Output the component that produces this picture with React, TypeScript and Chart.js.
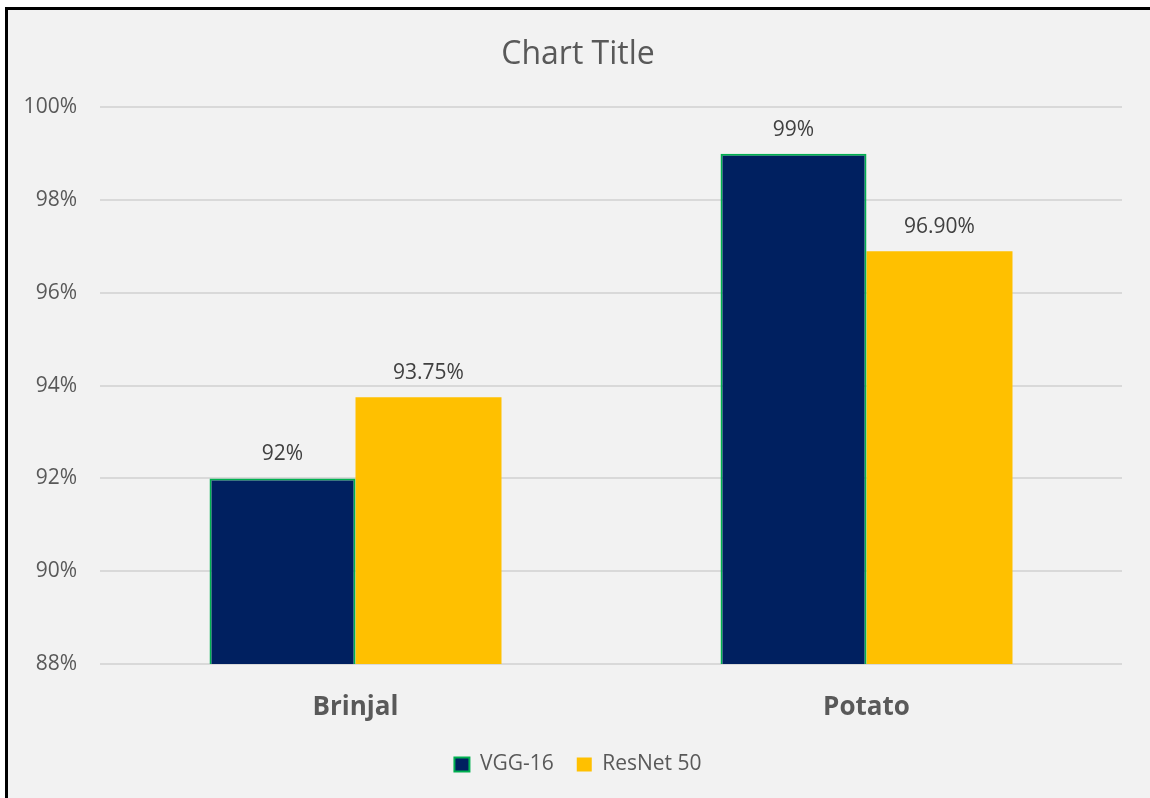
import React, { useEffect, useRef } from "react";
import { Chart, registerables } from "chart.js";

Chart.register(...registerables);

const categories = ["Brinjal", "Potato"];
const vggValues = [92, 99];
const resnetValues = [93.75, 96.9];
const vggLabels = ["92%", "99%"];
const resnetLabels = ["93.75%", "96.90%"];
const seriesNames = ["VGG-16", "ResNet 50"];
const yMin = 88;
const yMax = 100;
const yStep = 2;

const FONT = "'Open Sans', 'DejaVu Sans', sans-serif";

const dataLabelPlugin = {
  id: "dataLabels",
  afterDatasetsDraw(chart: any) {
    const ctx = chart.ctx;
    const labelSets = [vggLabels, resnetLabels];
    ctx.save();
    ctx.font = `21px ${FONT}`;
    ctx.fillStyle = "#404040";
    ctx.textAlign = "center";
    ctx.textBaseline = "middle";
    chart.data.datasets.forEach((_ds: any, di: number) => {
      const meta = chart.getDatasetMeta(di);
      meta.data.forEach((el: any, i: number) => {
        ctx.fillText(labelSets[di][i], el.x, el.y - 24);
      });
    });
    ctx.restore();
  },
};

export default function App() {
  const ref = useRef<HTMLCanvasElement | null>(null);

  useEffect(() => {
    if (!ref.current) return;
    const chart = new Chart(ref.current, {
      type: "bar",
      data: {
        labels: categories,
        datasets: [
          {
            label: seriesNames[0],
            data: vggValues,
            backgroundColor: "#002060",
            borderColor: "#00B050",
            borderWidth: 2,
            borderSkipped: false,
          },
          {
            label: seriesNames[1],
            data: resnetValues,
            backgroundColor: "#FFC000",
            borderColor: "#FFC000",
            borderWidth: 0,
            borderSkipped: false,
          },
        ],
      },
      options: {
        animation: false,
        responsive: false,
        maintainAspectRatio: false,
        datasets: {
          bar: {
            categoryPercentage: 0.5714,
            barPercentage: 1.0,
          },
        },
        layout: {
          padding: { left: 6, right: 0, top: 0, bottom: 13 },
        },
        scales: {
          x: {
            grid: { display: false, drawTicks: false },
            border: { display: false },
            ticks: {
              color: "#595959",
              font: { family: FONT, size: 26, weight: "bold" },
              padding: 28,
            },
            afterFit(scale: any) {
              scale.height = 67;
            },
          },
          y: {
            min: yMin,
            max: yMax,
            grid: { color: "#d9d9d9", lineWidth: 2, drawTicks: false },
            border: { display: false },
            ticks: {
              stepSize: yStep,
              color: "#595959",
              font: { family: FONT, size: 21 },
              padding: 23,
              callback: (v: any) => `${v}%`,
            },
            afterFit(scale: any) {
              scale.width = 94;
            },
          },
          yRight: {
            position: "right",
            display: true,
            min: yMin,
            max: yMax,
            grid: { display: false, drawTicks: false },
            border: { display: false },
            ticks: { display: false },
            afterFit(scale: any) {
              scale.width = 28;
            },
          },
        },
        plugins: {
          title: {
            display: true,
            text: "Chart Title",
            color: "#595959",
            font: { family: FONT, size: 32, weight: "normal" },
            padding: { top: 36, bottom: 33 },
          },
          legend: {
            display: true,
            position: "bottom",
            labels: {
              color: "#595959",
              font: { family: FONT, size: 21 },
              boxWidth: 15,
              boxHeight: 14,
              padding: 23,
            },
          },
          tooltip: { enabled: false },
        },
      },
      plugins: [dataLabelPlugin],
    } as any);
    return () => chart.destroy();
  }, []);

  return (
    <div
      style={{
        position: "fixed",
        left: 0,
        top: 0,
        width: 1150,
        height: 798,
        background: "#ffffff",
        overflow: "hidden",
      }}
    >
      <div
        style={{
          position: "absolute",
          left: 5,
          top: 7,
          width: 1200,
          height: 850,
          borderLeft: "3px solid #000",
          borderTop: "3px solid #000",
          background: "#f2f2f2",
        }}
      />
      <canvas
        ref={ref}
        width={1150}
        height={798}
        style={{ position: "absolute", left: 0, top: 0, width: 1150, height: 798 }}
      />
    </div>
  );
}
